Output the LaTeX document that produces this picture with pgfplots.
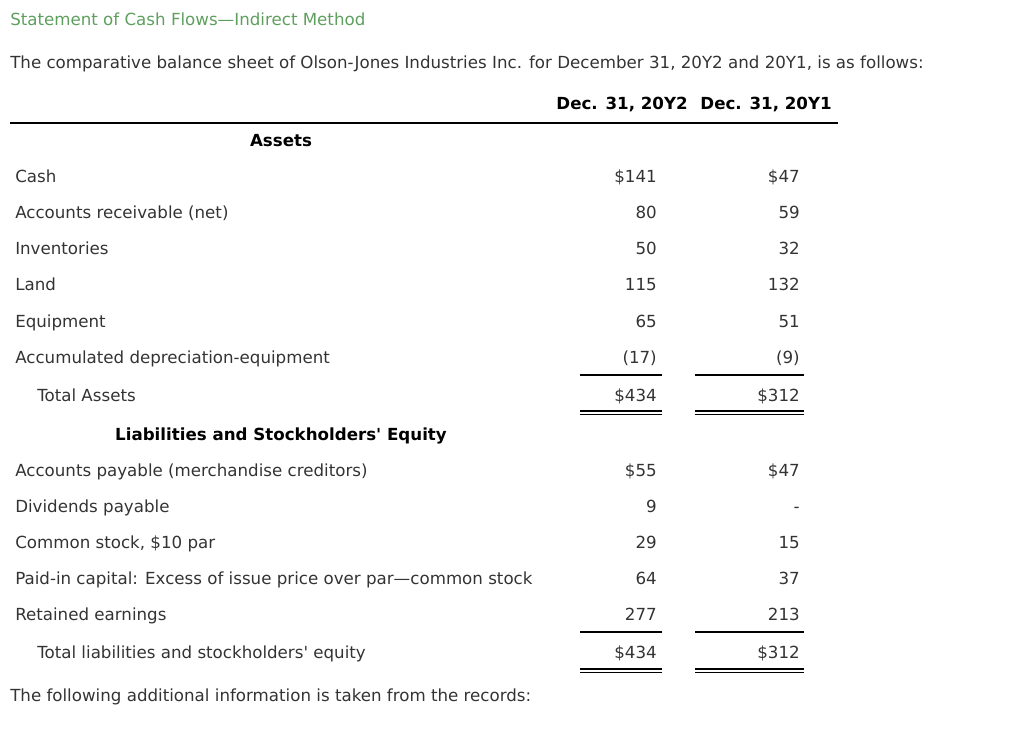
\documentclass[border=0pt]{standalone}
\usepackage{pgfplots}
\usepackage{pgfplotstable}
\usepackage{fontspec}
\setmainfont{DejaVu Sans}
\pgfplotsset{compat=1.18}
\definecolor{txt}{HTML}{333333}
\definecolor{ttl}{HTML}{5E9F5E}
\newcommand{\fs}{\fontsize{12.5pt}{15pt}\selectfont}

% row labels (y = text baseline, pixels from top)
\pgfplotstableread[col sep=semicolon]{
y;x;label
183;15;Cash
219;15;Accounts receivable (net)
255;15;Inventories
291;15;Land
327;15;Equipment
363;15;Accumulated depreciation-equipment
401;37;Total Assets
476;15;Accounts payable (merchandise creditors)
512;15;Dividends payable
548;15;Common stock, \$10 par
584;15;Paid-in capital: Excess of issue price over par---common stock
620;15;Retained earnings
658;37;Total liabilities and stockholders{\textquotesingle} equity
}\rowlabels

% amounts: a = Dec. 31, 20Y2, b = Dec. 31, 20Y1
\pgfplotstableread[col sep=semicolon]{
y;a;b
183;\$141;\$47
219;80;59
255;50;32
291;115;132
327;65;51
363;(17);(9)
401;\$434;\$312
476;\$55;\$47
512;9;-
548;29;15
584;64;37
620;277;213
658;\$434;\$312
}\amounts

\begin{document}
\begin{tikzpicture}[font=\fs]
\begin{axis}[
    scale only axis,
    width=768pt, height=550.5pt,
    xmin=0, xmax=1024, ymin=0, ymax=734,
    y dir=reverse,
    hide axis,
    clip=false,
]
\addplot[draw=none] coordinates {(0,0)(1024,734)};

% row labels
\addplot[only marks, mark=none, color=txt, nodes near coords,
    point meta=explicit symbolic,
    every node near coord/.append style={anchor=base west, inner sep=0pt}]
    table[x=x, y=y, meta=label] \rowlabels;

% amounts
\addplot[only marks, mark=none, color=txt, nodes near coords,
    point meta=explicit symbolic,
    every node near coord/.append style={anchor=base east, inner sep=0pt}]
    table[x expr=657, y=y, meta=a] \amounts;
\addplot[only marks, mark=none, color=txt, nodes near coords,
    point meta=explicit symbolic,
    every node near coord/.append style={anchor=base east, inner sep=0pt}]
    table[x expr=800, y=y, meta=b] \amounts;

% rules
\addplot[black, line width=1.5pt] coordinates {(10,123)(838,123)};
\addplot[black, line width=1.1pt] coordinates {(580,375)(662,375)};
\addplot[black, line width=1.1pt] coordinates {(695,375)(804,375)};
\addplot[black, line width=1.1pt] coordinates {(580,411)(662,411)};
\addplot[black, line width=1.1pt] coordinates {(695,411)(804,411)};
\addplot[black, line width=1.1pt] coordinates {(580,414.5)(662,414.5)};
\addplot[black, line width=1.1pt] coordinates {(695,414.5)(804,414.5)};
\addplot[black, line width=1.1pt] coordinates {(580,632)(662,632)};
\addplot[black, line width=1.1pt] coordinates {(695,632)(804,632)};
\addplot[black, line width=1.1pt] coordinates {(580,669)(662,669)};
\addplot[black, line width=1.1pt] coordinates {(695,669)(804,669)};
\addplot[black, line width=1.1pt] coordinates {(580,672.5)(662,672.5)};
\addplot[black, line width=1.1pt] coordinates {(695,672.5)(804,672.5)};

% text
\node[anchor=base west, inner sep=0pt, text=ttl] at (axis cs:10,26)
    {Statement of Cash Flows---Indirect Method};
\node[anchor=base west, inner sep=0pt, text=txt] at (axis cs:10,69)
    {The comparative balance sheet of Olson-Jones Industries Inc. for December 31, 20Y2 and 20Y1, is as follows:};
\node[anchor=base east, inner sep=0pt, font=\fs\bfseries] at (axis cs:688,110) {Dec. 31, 20Y2};
\node[anchor=base east, inner sep=0pt, font=\fs\bfseries] at (axis cs:832,110) {Dec. 31, 20Y1};
\node[anchor=base, inner sep=0pt, font=\fs\bfseries] at (axis cs:281,147) {Assets};
\node[anchor=base, inner sep=0pt, font=\fs\bfseries] at (axis cs:281,440) {Liabilities and Stockholders{\textquotesingle} Equity};
\node[anchor=base west, inner sep=0pt, text=txt] at (axis cs:10,701)
    {The following additional information is taken from the records:};
\end{axis}
\end{tikzpicture}
\end{document}
